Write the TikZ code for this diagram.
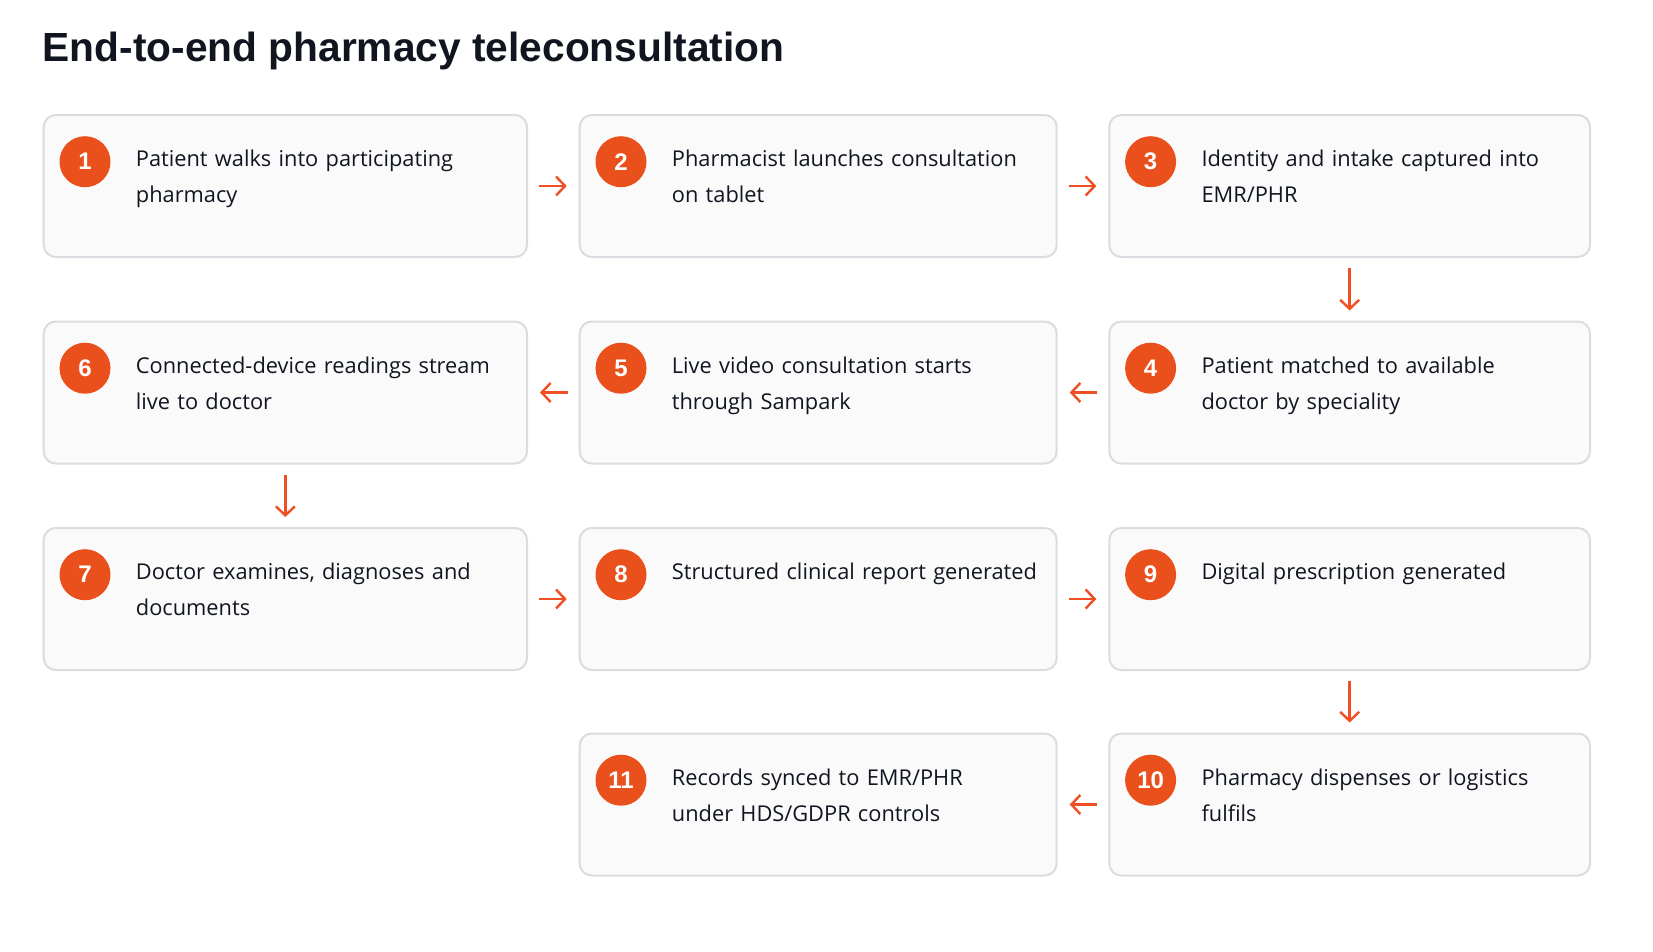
\documentclass[tikz,border=0pt]{standalone}
\usepackage{fontspec}
\setmainfont{Open Sans}
\newfontfamily\titlefont{Liberation Sans}
\usetikzlibrary{arrows.meta}
\definecolor{ink}{HTML}{10151F}
\definecolor{boxfill}{HTML}{FAFAFB}
\definecolor{boxline}{HTML}{D9DCE1}
\definecolor{accent}{HTML}{E9501C}
\definecolor{arrowc}{HTML}{F04E23}
\tikzset{
  stepbox/.style={draw=boxline, line width=2pt, fill=boxfill, rounded corners=12pt,
    minimum width=#1, minimum height=142pt, anchor=north west, inner sep=0pt},
  numdot/.style={circle, fill=accent, minimum size=51pt, inner sep=0pt,
    text=white, font=\titlefont\bfseries\fontsize{24}{26}\selectfont},
  steptext/.style={anchor=base west, inner sep=0pt, text width=420pt, align=left,
    text=ink, font=\fontsize{21.8}{36}\selectfont},
  flow/.style={draw=arrowc, line width=2.4pt, -{Straight Barb[length=9pt,width=19pt,line width=2.4pt]}},
  hflow/.style={flow, shorten <=11pt, shorten >=12pt},
  vflow/.style={flow, shorten <=10pt, shorten >=10pt}
}
\newcommand\mkstep[6]{% name, x, y, width, number, text
  \node[stepbox=#4] (#1) at (#2,#3) {};
  \node[numdot] (#1n) at ([xshift=42.3pt,yshift=-47.7pt]#1.north west) {#5};
  \node[steptext] (#1t) at ([xshift=93pt,yshift=-52.7pt]#1.north west) {#6};
}
\begin{document}
\begin{tikzpicture}[x=1pt,y=-1pt]
\useasboundingbox[fill=white] (0,0) rectangle (1653,951);
\node[anchor=base west, inner sep=0pt, text=ink, font=\titlefont\bfseries\fontsize{40.7}{44}\selectfont] (title) at (42.5,61) {End-to-end pharmacy teleconsultation};
% row 1
\mkstep{s1}{42.7}{114}{483.3pt}{1}{Patient walks into participating\\pharmacy}
\mkstep{s2}{578.7}{114}{477pt}{2}{Pharmacist launches consultation\\on tablet}
\mkstep{s3}{1108.3}{114}{480.7pt}{3}{Identity and intake captured into\\EMR/PHR}
% row 2
\mkstep{s6}{42.7}{320.5}{483.3pt}{6}{Connected-device readings stream\\live to doctor}
\mkstep{s5}{578.7}{320.5}{477pt}{5}{Live video consultation starts\\through Sampark}
\mkstep{s4}{1108.3}{320.5}{480.7pt}{4}{Patient matched to available\\doctor by speciality}
% row 3
\mkstep{s7}{42.7}{527}{483.3pt}{7}{Doctor examines, diagnoses and\\documents}
\mkstep{s8}{578.7}{527}{477pt}{8}{Structured clinical report generated}
\mkstep{s9}{1108.3}{527}{480.7pt}{9}{Digital prescription generated}
% row 4
\mkstep{s11}{578.7}{732.5}{477pt}{11}{Records synced to EMR/PHR\\under HDS/GDPR controls}
\mkstep{s10}{1108.3}{732.5}{480.7pt}{10}{Pharmacy dispenses or logistics\\fulfils}
% connectors
\draw[hflow] (s1.east) -- (s2.west);
\draw[hflow] (s2.east) -- (s3.west);
\draw[vflow] (s3.south) -- (s4.north);
\draw[hflow] (s4.west) -- (s5.east);
\draw[hflow] (s5.west) -- (s6.east);
\draw[vflow] (s6.south) -- (s7.north);
\draw[hflow] (s7.east) -- (s8.west);
\draw[hflow] (s8.east) -- (s9.west);
\draw[vflow] (s9.south) -- (s10.north);
\draw[hflow] (s10.west) -- (s11.east);
\end{tikzpicture}
\end{document}
